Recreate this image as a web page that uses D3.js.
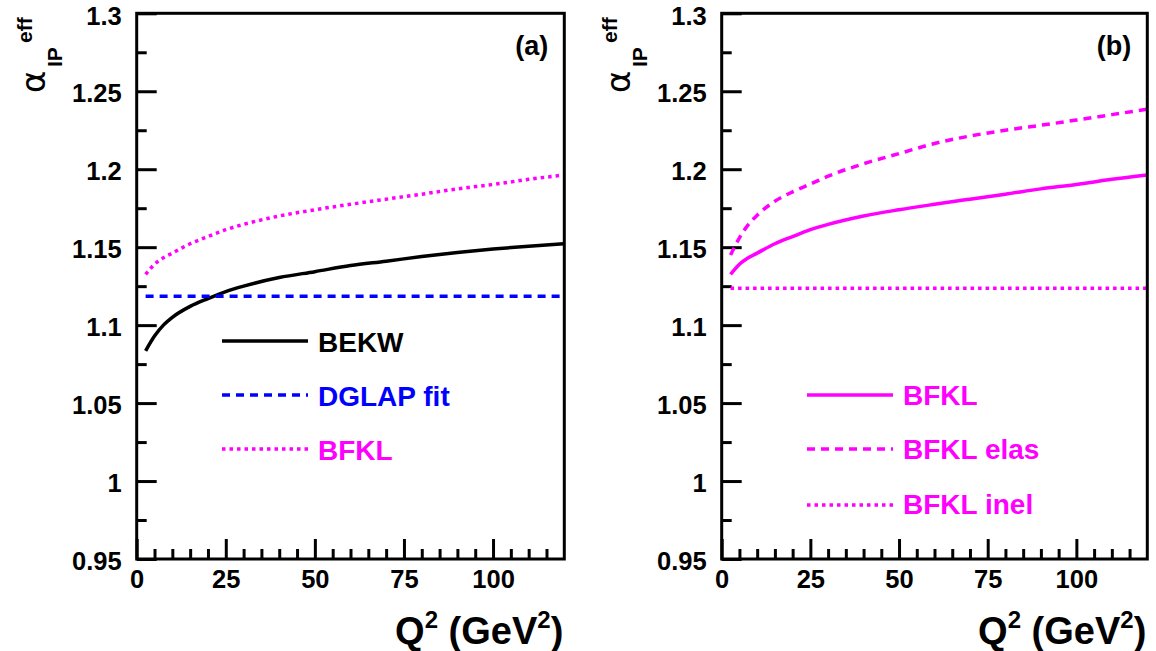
<!DOCTYPE html>
<html>
<head>
<meta charset="utf-8">
<script src="https://cdn.jsdelivr.net/npm/d3@7"></script>
<style>
  html, body { margin: 0; padding: 0; background: #fff; }
  svg { display: block; }
  text { font-family: "Liberation Sans", Arial, Helvetica, sans-serif; font-weight: bold; }
</style>
</head>
<body>
<svg id="chart" width="1156" height="651"></svg>
<script>
// ---- data ----
const q2 = [2.5, 5, 7.5, 10, 15, 20, 25, 30, 40, 50, 60, 70, 80, 90, 100, 110, 120];
const bekw = [1.0835, 1.093, 1.100, 1.105, 1.112, 1.117, 1.1215, 1.125, 1.1305, 1.1343, 1.1382, 1.141, 1.144, 1.1466, 1.1488, 1.1506, 1.1522];
const bfkl = [1.1325, 1.139, 1.1432, 1.1462, 1.1522, 1.1568, 1.1612, 1.1646, 1.1700, 1.1740, 1.1775, 1.1808, 1.1840, 1.1874, 1.1902, 1.1935, 1.1963];
const bfklElas = [1.145, 1.156, 1.1645, 1.1705, 1.1795, 1.1855, 1.1905, 1.1955, 1.2035, 1.2100, 1.2165, 1.2213, 1.2250, 1.2282, 1.2315, 1.2350, 1.2385];
const flatQ2 = [2.5, 120];
const dglap = [1.1185, 1.1185];
const bfklInel = [1.1237, 1.1237];

const xMajorTicks = [0, 25, 50, 75, 100];
const xMinorTicks = [5, 10, 15, 20, 30, 35, 40, 45, 55, 60, 65, 70, 80, 85, 90, 95, 105, 110, 115];
const yMajorTicks = [0.95, 1.0, 1.05, 1.1, 1.15, 1.2, 1.25, 1.3];
const yMinorTicks = [0.975, 1.025, 1.075, 1.125, 1.175, 1.225, 1.275];

const panelLabels = ["(a)", "(b)"];
const legendA = ["BEKW", "DGLAP fit", "BFKL"];
const legendB = ["BFKL", "BFKL elas", "BFKL inel"];

// ---- layout ----
const svg = d3.select("#chart");
const plotTop = 13.3, plotBottom = 559;
const panels = [
  { x0: 136.7, x1: 564.3 },
  { x0: 721.7, x1: 1147.3 }
];
const MAG = "#ff00ff", BLUE = "#0000ff", BLK = "#000000";
const DASH = "8,6", DOT = "3.5,4";

function fmtY(d) { return String(+d.toFixed(2)); }

function drawPanel(p, idx, series, legend) {
  const x = d3.scaleLinear().domain([0, 120]).range([p.x0, p.x1]);
  const y = d3.scaleLinear().domain([0.95, 1.3]).range([plotBottom, plotTop]);
  const g = svg.append("g");

  // y axis major
  const ya = g.append("g").attr("transform", `translate(${p.x0},0)`)
    .call(d3.axisLeft(y).tickValues(yMajorTicks).tickSize(-20).tickPadding(15).tickFormat(fmtY));
  ya.select(".domain").remove();
  ya.selectAll("line").attr("stroke", BLK).attr("stroke-width", 3);
  ya.selectAll("text").style("font-size", "25.5px").style("font-weight", "bold")
    .style("font-family", '"Liberation Sans", Arial, sans-serif').attr("fill", BLK).attr("dy", "0.42em");
  const yb = g.append("g").attr("transform", `translate(${p.x0},0)`)
    .call(d3.axisLeft(y).tickValues(yMinorTicks).tickSize(-10).tickFormat(""));
  yb.select(".domain").remove();
  yb.selectAll("line").attr("stroke", BLK).attr("stroke-width", 3);

  // x axis
  const xa = g.append("g").attr("transform", `translate(0,${plotBottom})`)
    .call(d3.axisBottom(x).tickValues(xMajorTicks).tickSize(-20).tickPadding(11).tickFormat(d3.format("d")));
  xa.select(".domain").remove();
  xa.selectAll("line").attr("stroke", BLK).attr("stroke-width", 3);
  xa.selectAll("text").style("font-size", "25.5px").style("font-weight", "bold")
    .style("font-family", '"Liberation Sans", Arial, sans-serif').attr("fill", BLK);
  const xb = g.append("g").attr("transform", `translate(0,${plotBottom})`)
    .call(d3.axisBottom(x).tickValues(xMinorTicks).tickSize(-10).tickFormat(""));
  xb.select(".domain").remove();
  xb.selectAll("line").attr("stroke", BLK).attr("stroke-width", 3);

  // curves
  const line = d3.line().x(d => x(d[0])).y(d => y(d[1])).curve(d3.curveMonotoneX);
  series.forEach(s => {
    g.append("path").datum(s.xs.map((v, i) => [v, s.ys[i]]))
      .attr("d", line).attr("fill", "none")
      .attr("stroke", s.color).attr("stroke-width", 3.5)
      .attr("stroke-dasharray", s.dash || null);
  });

  // frame
  g.append("rect").attr("x", p.x0).attr("y", plotTop)
    .attr("width", p.x1 - p.x0).attr("height", plotBottom - plotTop)
    .attr("fill", "none").attr("stroke", BLK).attr("stroke-width", 3);

  // panel label
  g.append("text").attr("x", p.x1 - 16).attr("y", 55).attr("text-anchor", "end")
    .style("font-size", "27px").text(panelLabels[idx]);

  // x title
  const xt = g.append("text").attr("x", p.x1 - 1).attr("y", 644).attr("text-anchor", "end")
    .style("font-size", "38px");
  xt.append("tspan").text("Q");
  xt.append("tspan").style("font-size", "24px").attr("dy", -16).text("2");
  xt.append("tspan").attr("dy", 16).text(" (GeV");
  xt.append("tspan").style("font-size", "24px").attr("dy", -16).text("2");
  xt.append("tspan").attr("dy", 16).text(")");

  // y title (rotated)
  const bx = p.x0 - 91.7;
  g.append("text").attr("transform", `translate(${bx},93) rotate(-90)`)
    .style("font-family", '"DejaVu Sans", sans-serif').style("font-weight", "normal")
    .style("font-size", "34px").text("α");
  g.append("text").attr("transform", `translate(${bx + 17},67) rotate(-90)`)
    .style("font-size", "21px").text("IP");
  g.append("text").attr("transform", `translate(${bx - 13},43) rotate(-90)`)
    .style("font-size", "21px").text("eff");

  // legend
  legend.forEach(l => {
    g.append("line").attr("x1", l.lx).attr("x2", l.lx + 86).attr("y1", l.ly).attr("y2", l.ly)
      .attr("stroke", l.color).attr("stroke-width", 3.5).attr("stroke-dasharray", l.dash || null);
    g.append("text").attr("x", l.lx + 96).attr("y", l.ty).style("font-size", "28px")
      .attr("fill", l.color).text(l.label);
  });
}

drawPanel(panels[0], 0, [
  { xs: q2, ys: bekw, color: BLK },
  { xs: flatQ2, ys: dglap, color: BLUE, dash: DASH },
  { xs: q2, ys: bfkl, color: MAG, dash: DOT }
], [
  { label: legendA[0], color: BLK, lx: 222, ly: 341, ty: 352 },
  { label: legendA[1], color: BLUE, dash: DASH, lx: 222, ly: 395, ty: 406 },
  { label: legendA[2], color: MAG, dash: DOT, lx: 222, ly: 449, ty: 460 }
]);

drawPanel(panels[1], 1, [
  { xs: q2, ys: bfkl, color: MAG },
  { xs: q2, ys: bfklElas, color: MAG, dash: DASH },
  { xs: flatQ2, ys: bfklInel, color: MAG, dash: DOT }
], [
  { label: legendB[0], color: MAG, lx: 807, ly: 395, ty: 405 },
  { label: legendB[1], color: MAG, dash: DASH, lx: 807, ly: 449, ty: 459 },
  { label: legendB[2], color: MAG, dash: DOT, lx: 807, ly: 505, ty: 514 }
]);
</script>
</body>
</html>
